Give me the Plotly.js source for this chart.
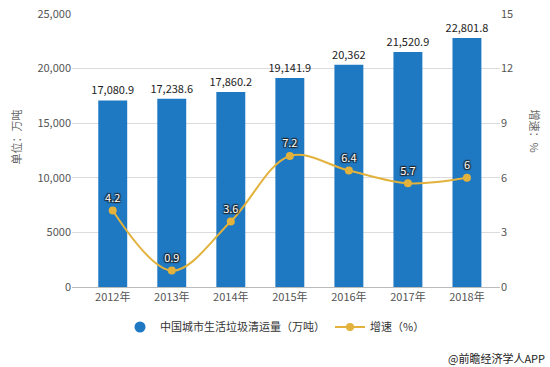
<!DOCTYPE html>
<html>
<head>
<meta charset="utf-8">
<script src="https://cdn.plot.ly/plotly-3.0.1.min.js"></script>
<style>html,body{margin:0;padding:0;background:#fff;}#chart{width:550px;height:367px;}</style>
</head>
<body>
<div id="chart"></div>
<script>
const categories = ["2012年","2013年","2014年","2015年","2016年","2017年","2018年"];
const volume = [17080.9, 17238.6, 17860.2, 19141.9, 20362, 21520.9, 22801.8];
const volumeLabels = ["17,080.9","17,238.6","17,860.2","19,141.9","20,362","21,520.9","22,801.8"];
const growth = [4.2, 0.9, 3.6, 7.2, 6.4, 5.7, 6];
const growthLabels = ["4.2","0.9","3.6","7.2","6.4","5.7","6"];
const leftTicks = [0, 5000, 10000, 15000, 20000, 25000];
const leftTickText = ["0","5000","10,000","15,000","20,000","25,000"];
const rightTicks = [0, 3, 6, 9, 12, 15];

const FONT = "'Noto Sans CJK SC', 'Noto Sans', sans-serif";
const BLUE = "#1f78c2";
const GOLD = "#e2b23c";

const traces = [
  {
    type: "bar", x: categories, y: volume, name: "中国城市生活垃圾清运量（万吨）",
    marker: {color: BLUE}, text: volumeLabels, textposition: "outside",
    constraintext: "none",
    textfont: {family: FONT, size: 11, color: "#222"}, cliponaxis: false,
    showlegend: false, hoverinfo: "skip"
  },
  {
    type: "scatter", mode: "markers", x: [categories[0]], y: [null],
    name: "中国城市生活垃圾清运量（万吨）",
    marker: {color: BLUE, size: 11, symbol: "circle"}, showlegend: true
  },
  {
    type: "scatter", mode: "lines+markers+text", x: categories, y: growth, yaxis: "y2",
    name: "增速（%）", line: {color: GOLD, width: 2, shape: "spline", smoothing: 1},
    marker: {color: GOLD, size: 8},
    text: growthLabels, textposition: "top center",
    textfont: {family: FONT, size: 11, color: "#fff",
      shadow: "1px 1px 1px #222, -1px -1px 1px #222, 1px -1px 1px #222, -1px 1px 1px #222"},
    cliponaxis: false
  }
];

const layout = {
  width: 550, height: 367,
  margin: {l: 72, r: 50, t: 14, b: 80, autoexpand: false},
  paper_bgcolor: "#fff", plot_bgcolor: "#fff",
  font: {family: FONT, size: 11, color: "#555"},
  bargap: 0.51,
  xaxis: {
    type: "category", range: [-0.69, 6.56], showgrid: false,
    showline: true, linecolor: "#bbb", linewidth: 1, ticks: "",
    tickfont: {family: FONT, size: 11, color: "#555"}, fixedrange: true
  },
  yaxis: {
    range: [0, 25000], tickvals: leftTicks, ticktext: leftTickText,
    showgrid: true, gridcolor: "#dcdcdc", gridwidth: 1, zeroline: false,
    ticks: "", tickfont: {family: FONT, size: 11, color: "#555"}
  },
  yaxis2: {
    range: [0, 15], tickvals: rightTicks, overlaying: "y", side: "right",
    showgrid: false, zeroline: false, ticks: "",
    tickfont: {family: FONT, size: 11, color: "#555"}
  },
  legend: {
    orientation: "h", x: 0.5, xanchor: "center", xref: "container",
    y: 0.109, yanchor: "middle", yref: "container",
    font: {family: FONT, size: 11, color: "#333"}, itemwidth: 30
  },
  annotations: [
    {text: "单位：万吨", xref: "paper", yref: "paper", x: -0.155, y: 0.55,
     showarrow: false, textangle: -90, font: {family: FONT, size: 11, color: "#666"}},
    {text: "增速：%", xref: "paper", yref: "paper", x: 1.105, y: 0.57,
     showarrow: false, textangle: 90, font: {family: FONT, size: 11, color: "#666"}},
    {text: "@前瞻经济学人APP", xref: "paper", yref: "paper", x: 1.11, y: -0.225,
     xanchor: "right", yanchor: "top", showarrow: false,
     font: {family: FONT, size: 11, color: "#222"}}
  ]
};

Plotly.newPlot("chart", traces, layout, {displayModeBar: false, staticPlot: true});
</script>
</body>
</html>
